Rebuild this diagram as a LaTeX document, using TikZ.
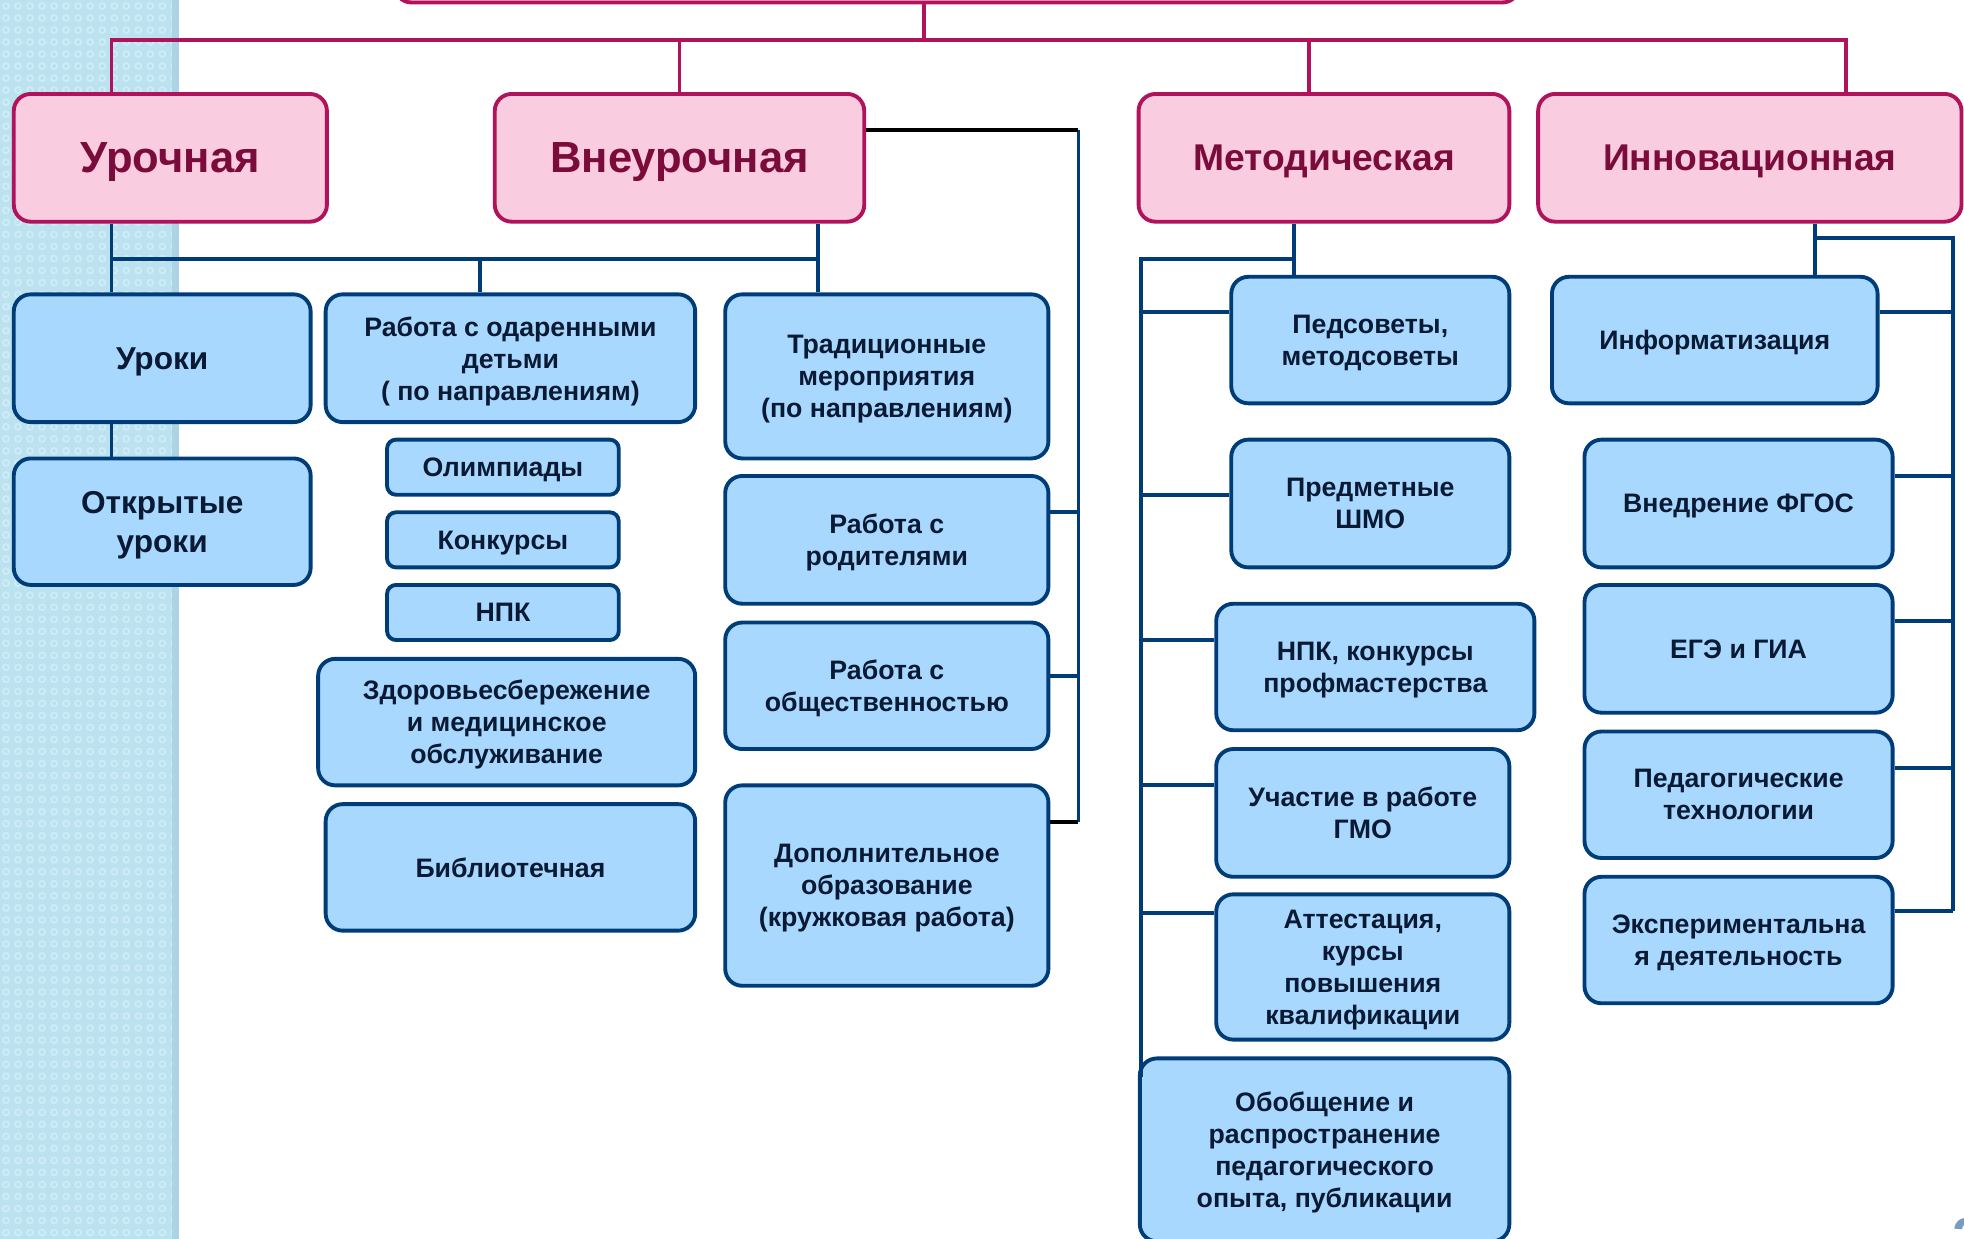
\documentclass[tikz,border=0pt]{standalone}
\usepackage{fontspec}
\setmainfont{Liberation Sans}
\usepackage{tikz}
\usepackage{xcolor}

\definecolor{headfill}{RGB}{249,204,224}
\definecolor{headline}{RGB}{176,18,91}
\definecolor{headtext}{RGB}{123,11,59}
\definecolor{itemfill}{RGB}{168,216,253}
\definecolor{itemline}{RGB}{0,61,120}
\definecolor{itemtext}{RGB}{10,26,53}
\definecolor{stripfill}{RGB}{188,226,240}
\definecolor{stripdot}{RGB}{205,236,247}
\definecolor{stripedge}{RGB}{172,212,228}
\definecolor{numcol}{RGB}{120,155,195}

\newdimen\unitpx
\unitpx=0.012526cm

\tikzset{
  boxsize/.style 2 args={minimum width=#1*\unitpx, minimum height=#2*\unitpx},
  head/.style={draw=headline, fill=headfill, line width=1.1pt, rounded corners=0.17cm,
    text=headtext, font=\fontsize{10.6}{13}\selectfont\bfseries, align=center,
    inner sep=0pt, text depth=0pt},
  bighead/.style={head, font=\fontsize{12.4}{14}\selectfont\bfseries},
  item/.style={draw=itemline, fill=itemfill, line width=1.1pt, rounded corners=0.17cm,
    text=itemtext, font=\fontsize{7.6}{9.1}\selectfont\bfseries, align=center,
    inner sep=0pt, text depth=0pt},
  smallitem/.style={item, rounded corners=0.09cm},
  pinkline/.style={draw=headline, line width=1.1pt},
  blueline/.style={draw=itemline, line width=1.1pt},
  blackline/.style={draw=black, line width=1.1pt}
}

\begin{document}
\begin{tikzpicture}[x=0.012526cm, y=-0.012526cm]
    \useasboundingbox (0,0) rectangle (1568,989);
    \clip (0,0) rectangle (1568,989);
    % background strip
    \fill[stripfill] (0,0) rectangle (143,989);
    \foreach \i in {0,...,14}
        \foreach \j in {0,...,103}
            \draw[stripdot, line width=0.5pt] (\i*9.6+4.8,\j*9.6+4.8) circle (2.4);
    \fill[stripedge] (137,0) rectangle (143,989);

    % Top level
    \node[head, boxsize={898}{104}] (root) at (764,-50) {};
    \node[bighead, boxsize={250}{102}] (uroch) at (136,126) {Урочная};
    \node[bighead, boxsize={295}{102}] (vneur) at (542.5,126) {Внеурочная};
    \node[head, boxsize={296}{102}] (metod) at (1057,126) {Методическая};
    \node[head, boxsize={338}{102}] (innov) at (1397,126) {Инновационная};

    % Урочная
    \node[item, boxsize={237}{102}, font=\fontsize{9}{11.2}\selectfont\bfseries] (uroki) at (129.5,286) {Уроки};
    \node[item, boxsize={237}{101}, font=\fontsize{9}{11.2}\selectfont\bfseries] (otkr) at (129.5,416.5) {Открытые\\уроки};

    % Внеурочная, left column
    \node[item, boxsize={295}{102}] (odar) at (407.5,286) {Работа с одаренными\\детьми\\( по направлениям)};
    \node[smallitem, boxsize={185}{44}] (olimp) at (401.5,373) {Олимпиады};
    \node[smallitem, boxsize={185}{44}] (konk) at (401.5,431) {Конкурсы};
    \node[smallitem, boxsize={185}{44}] (npk) at (401.5,489) {НПК};
    \node[item, boxsize={301}{101}] (zdor) at (404.5,576.5) {Здоровьесбережение\\и медицинское\\обслуживание};
    \node[item, boxsize={295}{101}] (bibl) at (407.5,692.5) {Библиотечная};

    % Внеурочная, right column
    \node[item, boxsize={258}{131}] (trad) at (708,300.5) {Традиционные\\мероприятия\\(по направлениям)};
    \node[item, boxsize={258}{102}] (rodit) at (708,431) {Работа с\\родителями};
    \node[item, boxsize={258}{101}] (obsch) at (708,547.5) {Работа с\\общественностью};
    \node[item, boxsize={258}{160}] (dop) at (708,707) {Дополнительное\\образование\\(кружковая работа)};

    % Методическая
    \node[item, boxsize={222}{101}] (pedsov) at (1094,271.5) {Педсоветы,\\методсоветы};
    \node[item, boxsize={222}{102}] (predm) at (1094,402) {Предметные\\ШМО};
    \node[item, boxsize={254}{101}] (npkk) at (1098,532.5) {НПК, конкурсы\\профмастерства};
    \node[item, boxsize={234}{102}] (uchast) at (1088,649) {Участие в работе\\ГМО};
    \node[item, boxsize={234}{116}] (attest) at (1088,772) {Аттестация,\\курсы\\повышения\\квалификации};
    \node[item, boxsize={295}{146}] (obobsch) at (1057.5,918) {Обобщение и\\распространение\\педагогического\\опыта, публикации};

    % Инновационная
    \node[item, boxsize={260}{101}] (inform) at (1369,271.5) {Информатизация};
    \node[item, boxsize={246}{102}] (vnedr) at (1388,402) {Внедрение ФГОС};
    \node[item, boxsize={246}{102}] (ege) at (1388,518) {ЕГЭ и ГИА};
    \node[item, boxsize={246}{101}] (pedtech) at (1388,634.5) {Педагогические\\технологии};
    \node[item, boxsize={246}{101}] (exper) at (1388,750.5) {Экспериментальна\\я деятельность};

    \node[anchor=west, inner sep=0pt, text=numcol, font=\fontsize{16}{16}\selectfont\bfseries] (pagenum) at (1558,988) {2};

    % Connections, top level
    \coordinate (rootj) at (738,32);
    \coordinate (busL) at (89,32);
    \coordinate (busR) at (1474,32);
    \coordinate (metj) at (1045,32);
    \draw[pinkline] (rootj |- root.south) -- (rootj);
    \draw[pinkline] (busL |- uroch.north) -- (busL) -- (busR) -- (busR |- innov.north);
    \draw[pinkline] (vneur.north) -- (vneur.north |- busL);
    \draw[pinkline] (metj) -- (metj |- metod.north);

    % Connections, Урочная and Внеурочная
    \coordinate (ubusL) at (89,207);
    \coordinate (ubusM) at (383,207);
    \coordinate (ubusR) at (653,207);
    \draw[blueline] (ubusL |- uroch.south) -- (ubusL |- uroki.north);
    \draw[blueline] (ubusL |- uroki.south) -- (ubusL |- otkr.north);
    \draw[blueline] (ubusL) -- (ubusR);
    \draw[blueline] (ubusR |- vneur.south) -- (ubusR |- trad.north);
    \draw[blueline] (ubusM) -- (ubusM |- odar.north);

    \coordinate (vtop) at (861,104);
    \coordinate (vbot) at (861,656);
    \draw[blueline] (vtop) -- (vbot);
    \draw[blackline] (vtop -| vneur.east) -- (vtop);
    \draw[blackline] (vbot) -- (vbot -| dop.east);
    \foreach \y/\n in {409/rodit, 540/obsch}{
        \coordinate (v\n) at (861,\y);
        \draw[blueline] (v\n) -- (v\n -| \n.east);
    }

    % Connections, Методическая
    \coordinate (mtop) at (1033,207);
    \coordinate (mleft) at (911,207);
    \coordinate (mend) at (911,860);
    \draw[blueline] (mtop |- metod.south) -- (mtop |- pedsov.north);
    \draw[blueline] (mtop) -- (mleft) -- (mend);
    \foreach \y/\n in {249/pedsov, 395/predm, 511/npkk, 627/uchast, 729/attest}{
        \coordinate (m\n) at (911,\y);
        \draw[blueline] (m\n) -- (m\n -| \n.west);
    }

    % Connections, Инновационная
    \coordinate (itop) at (1449,190);
    \coordinate (iright) at (1559,190);
    \coordinate (iend) at (1559,727);
    \draw[blueline] (itop |- innov.south) -- (itop |- inform.north);
    \draw[blueline] (itop) -- (iright) -- (iend);
    \foreach \y/\n in {249/inform, 380/vnedr, 496/ege, 613/pedtech, 727/exper}{
        \coordinate (i\n) at (1559,\y);
        \draw[blueline] (i\n) -- (i\n -| \n.east);
    }
\end{tikzpicture}
\end{document}
